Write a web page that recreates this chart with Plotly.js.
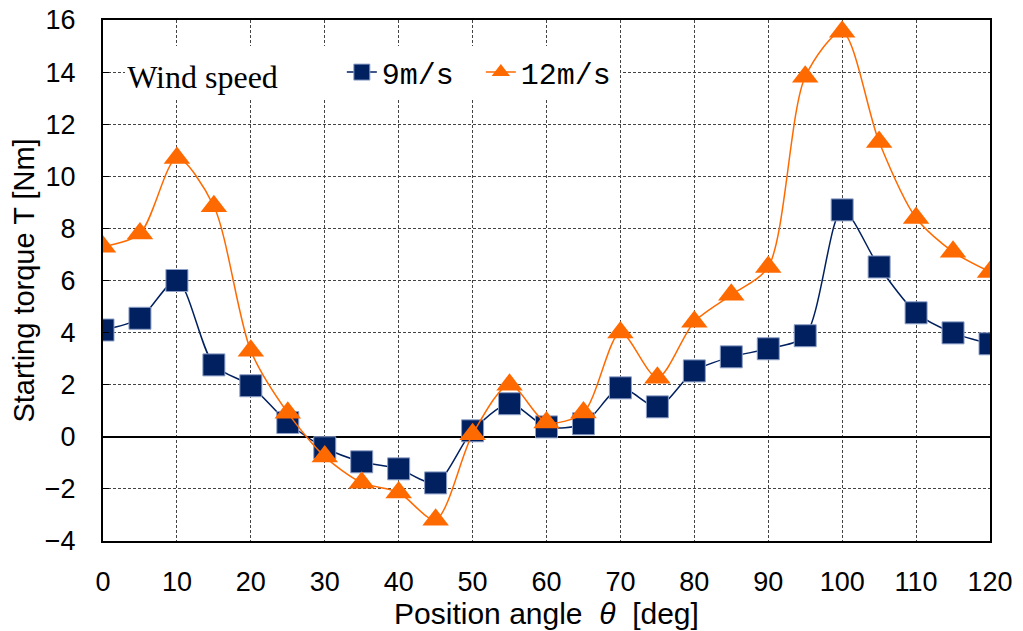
<!DOCTYPE html>
<html>
<head>
<meta charset="utf-8">
<script src="https://cdn.plot.ly/plotly-3.0.1.min.js"></script>
<style>html,body{margin:0;padding:0;background:#fff;}#chart{width:1023px;height:631px;}</style>
</head>
<body>
<div id="chart"></div>
<script>
const angles = [0,5,10,15,20,25,30,35,40,45,50,55,60,65,70,75,80,85,90,95,100,105,110,115,120];
const torque9 = [4.1,4.55,6.0,2.76,1.96,0.55,-0.42,-0.96,-1.23,-1.77,0.23,1.27,0.38,0.5,1.88,1.15,2.53,3.07,3.38,3.88,8.71,6.52,4.76,3.99,3.57];
const torque12 = [7.3,7.8,10.7,8.85,3.3,0.92,-0.76,-1.76,-2.14,-3.18,0.1,2.0,0.55,0.93,4.0,2.27,4.42,5.45,6.52,13.82,15.55,11.32,8.4,7.1,6.33];
const xTicks = [0,10,20,30,40,50,60,70,80,90,100,110,120];
const yTicks = [-4,-2,0,2,4,6,8,10,12,14,16];

const traces = [
  {x: angles, y: torque9, name: '9m/s', type: 'scatter', mode: 'lines+markers',
   line: {color: '#002060', width: 1.5, shape: 'spline', smoothing: 0.8},
   marker: {symbol: 'square', size: 22, color: '#002060', line: {color: '#8ea0c8', width: 1}}},
  {x: angles, y: torque12, name: '12m/s', type: 'scatter', mode: 'lines+markers',
   line: {color: '#ff6a00', width: 1.5, shape: 'spline', smoothing: 0.8},
   marker: {symbol: 'triangle-up', size: 23, color: '#ff6a00'}}
];

const gridDash = '3px,2px';
const nb = '\u00a0';
const layout = {
  width: 1023, height: 631,
  margin: {l: 103, r: 33, t: 20, b: 90},
  paper_bgcolor: '#fff', plot_bgcolor: '#fff',
  showlegend: true,
  legend: {
    orientation: 'h', x: 0.025, y: 0.9, xanchor: 'left', yanchor: 'middle',
    bgcolor: '#fff', borderwidth: 0,
    font: {family: 'Liberation Mono', size: 30, color: '#000'},
    title: {text: 'Wind speed' + nb.repeat(7), side: 'left', font: {family: 'Liberation Serif', size: 32, color: '#000'}},
    entrywidth: 94, entrywidthmode: 'pixels'
  },
  xaxis: {
    range: [0, 120], tickvals: xTicks, ticktext: xTicks.map(String),
    showline: true, linecolor: '#000', linewidth: 2, mirror: true,
    showgrid: true, gridcolor: '#444', griddash: gridDash, gridwidth: 1,
    zeroline: false, ticks: '', ticklabelstandoff: 16,
    tickfont: {family: 'Liberation Sans', size: 27, color: '#000'},
    title: {text: 'Position angle' + nb + nb + '<i>θ</i>' + nb + nb + '[deg]', standoff: 0, font: {family: 'Liberation Sans', size: 30, color: '#000'}}
  },
  yaxis: {
    range: [-4, 16], tickvals: yTicks,
    showline: true, linecolor: '#000', linewidth: 2, mirror: true,
    showgrid: true, gridcolor: '#444', griddash: gridDash, gridwidth: 1,
    zeroline: true, zerolinecolor: '#000', zerolinewidth: 2,
    ticks: 'inside', ticklen: 6, tickcolor: '#000', ticklabelstandoff: 20,
    tickfont: {family: 'Liberation Sans', size: 27, color: '#000'},
    title: {text: 'Starting torque T [Nm]', standoff: 2, font: {family: 'Liberation Sans', size: 29, color: '#000'}}
  }
};

Plotly.newPlot('chart', traces, layout, {displayModeBar: false, staticPlot: true});
</script>
</body>
</html>
